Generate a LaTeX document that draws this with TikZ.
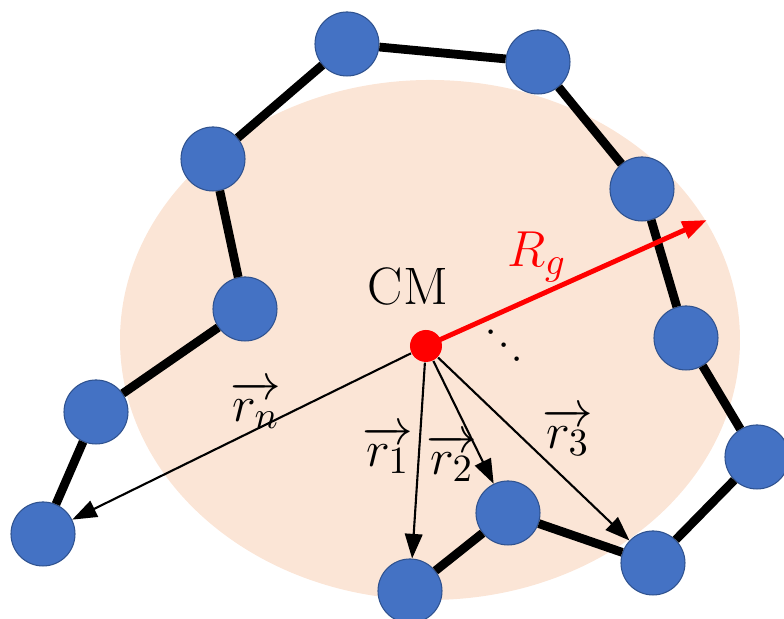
\documentclass[tikz,border=0pt]{standalone}
\usepackage{amsmath}
\usepackage{amssymb}
\usepackage{tikz}
\usetikzlibrary{
	arrows.meta,
	positioning,
	calc
}
\usepackage{xcolor}
\definecolor{bead}{HTML}{4472C4}
\definecolor{beadedge}{HTML}{2F528F}
\definecolor{cloud}{HTML}{FBE5D6}

\begin{document}
\begin{tikzpicture}[>={Triangle[length=7pt,width=5pt]},
		bead/.style={circle,fill=bead,draw=beadedge,line width=0.3pt,minimum size=0.64cm,inner sep=0pt},
		bond/.style={line width=2.5pt},
		radius/.style={->,line width=0.6pt},
		vlabel/.style={inner sep=0pt},
		font=\fontsize{15}{17}\selectfont]
		
		\useasboundingbox (0,0) rectangle (7.84,6.19);
		
		% Gyration ellipse
		\fill[cloud] (4.30,2.79) ellipse [x radius=3.10,y radius=2.60];
		
		% Beads of the chain
		\node[bead] (n1) at (0.43,0.85) {};
		\node[bead] (n2) at (0.96,2.07) {};
		\node[bead] (n3) at (2.45,3.10) {};
		\node[bead] (n4) at (2.13,4.60) {};
		\node[bead] (n5) at (3.47,5.75) {};
		\node[bead] (n6) at (5.38,5.57) {};
		\node[bead] (n7) at (6.42,4.30) {};
		\node[bead] (n8) at (6.86,2.81) {};
		\node[bead] (n9) at (7.57,1.62) {};
		\node[bead] (n10) at (6.53,0.56) {};
		\node[bead] (n11) at (5.08,1.06) {};
		\node[bead] (n12) at (4.10,0.28) {};
		
		% Bonds
		\foreach \a/\b in {1/2,2/3,3/4,4/5,5/6,6/7,7/8,8/9,9/10,10/11,11/12}
		\draw[bond] (n\a) -- (n\b);
		
		% Centre of mass and radius of gyration
		\coordinate (rgtip) at (7.07,3.99);
		\draw[->,red,line width=1.4pt] (4.26,2.73) -- (rgtip);
		\node[circle,fill=red,minimum size=0.32cm,inner sep=0pt] (cm) at (4.26,2.73) {};
		\node (cmlabel) at (4.08,3.32) {CM};
		\node[red] (rglabel) at (5.37,3.62) {$R_g$};
		\node[vlabel,rotate=-45,font=\fontsize{12}{14}\selectfont] (dots) at (5.06,2.70) {$\cdots$};
		
		% Position vectors
		\draw[radius] (cm) -- (n1);
		\draw[radius] (cm) -- (n12);
		\draw[radius] (cm) -- (n11);
		\draw[radius] (cm) -- (n10);
		\node[vlabel] (rn) at (2.56,2.14) {$\overrightarrow{r_n}$};
		\node[vlabel] (r1) at (3.88,1.69) {$\overrightarrow{r_1}$};
		\node[vlabel] (r2) at (4.52,1.61) {$\overrightarrow{r_2}$};
		\node[vlabel] (r3) at (5.68,1.87) {$\overrightarrow{r_3}$};
		
	\end{tikzpicture}
\end{document}
